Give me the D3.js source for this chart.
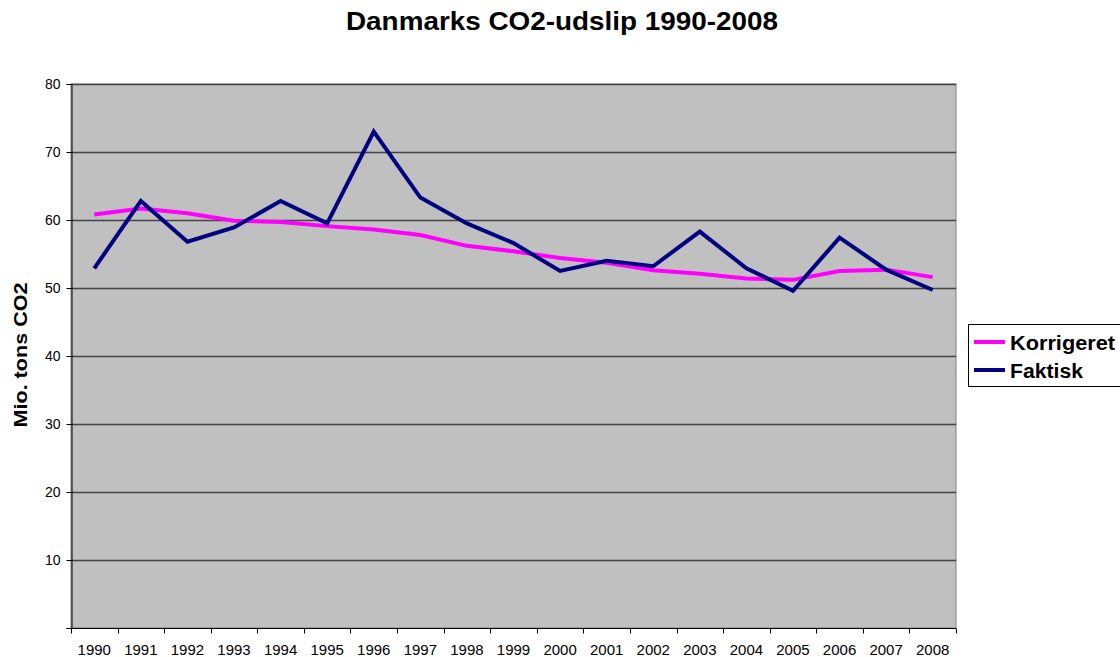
<!DOCTYPE html>
<html>
<head>
<meta charset="utf-8">
<script src="https://cdn.jsdelivr.net/npm/d3@7"></script>
<style>
  body { margin: 0; background: #fff; }
  text { font-family: Arial, "Liberation Sans", sans-serif; }
</style>
</head>
<body>
<div id="chart"></div>
<script>
// data
let aar = ["1990","1991","1992","1993","1994","1995","1996","1997","1998","1999",
           "2000","2001","2002","2003","2004","2005","2006","2007","2008"];
let korrigeret = [60.8,61.7,61.0,59.9,59.7,59.1,58.6,57.8,56.2,55.4,
                  54.4,53.7,52.6,52.1,51.4,51.2,52.5,52.7,51.6];
let faktisk = [52.9,62.8,56.8,58.9,62.8,59.5,73.0,63.3,59.5,56.6,
               52.5,54.0,53.2,58.3,52.9,49.6,57.4,52.7,49.7];
let yTicks = [10,20,30,40,50,60,70,80];

let width = 1120, height = 657;
let plot = {left: 71, top: 84, right: 956, bottom: 628};

let svg = d3.select("#chart").append("svg")
    .attr("width", width).attr("height", height);

let x = d3.scaleBand().domain(aar).range([plot.left, plot.right]);
let y = d3.scaleLinear().domain([0, 80]).range([plot.bottom, plot.top]);

// title
svg.append("text")
    .attr("x", 562).attr("y", 30)
    .attr("text-anchor", "middle")
    .attr("textLength", 432).attr("lengthAdjust", "spacingAndGlyphs")
    .style("font-size", "25px").style("font-weight", "bold")
    .text("Danmarks CO2-udslip 1990-2008");

// plot area
svg.append("rect")
    .attr("x", plot.left).attr("y", plot.top)
    .attr("width", plot.right - plot.left).attr("height", plot.bottom - plot.top)
    .attr("fill", "#c0c0c0").attr("stroke", "#808080").attr("stroke-width", 1);

// gridlines
svg.append("g").selectAll("line")
    .data(yTicks)
    .enter().append("line")
    .attr("x1", plot.left).attr("x2", plot.right)
    .attr("y1", d => Math.round(y(d)) + 0.5).attr("y2", d => Math.round(y(d)) + 0.5)
    .attr("stroke", "#444").attr("stroke-width", 1.3);

// y axis
let yAxis = svg.append("g")
    .attr("transform", "translate(" + (plot.left + 0.5) + ",0)")
    .call(d3.axisLeft(y).tickValues([0].concat(yTicks)).tickSize(5).tickPadding(6)
        .tickFormat(d => d === 0 ? "" : d));
yAxis.select(".domain").attr("stroke", "#000");
yAxis.selectAll(".tick line").attr("stroke", "#000");
yAxis.selectAll("text").style("font-size", "14px").attr("fill", "#000");

// x axis: ticks sit between categories
let xAxisG = svg.append("g")
    .attr("transform", "translate(0," + (plot.bottom + 0.5) + ")");
xAxisG.append("line")
    .attr("x1", plot.left).attr("x2", plot.right)
    .attr("stroke", "#000");
xAxisG.selectAll("line.tk")
    .data(aar.concat(["end"]))
    .enter().append("line")
    .attr("class", "tk")
    .attr("x1", (d, i) => Math.round(plot.left + i * x.bandwidth()) + 0.5)
    .attr("x2", (d, i) => Math.round(plot.left + i * x.bandwidth()) + 0.5)
    .attr("y1", 0).attr("y2", 5)
    .attr("stroke", "#000");
xAxisG.selectAll("text")
    .data(aar)
    .enter().append("text")
    .attr("x", d => x(d) + x.bandwidth() / 2)
    .attr("y", 26)
    .attr("text-anchor", "middle")
    .style("font-size", "15px")
    .text(d => d);

// y label
svg.append("text")
    .attr("transform", "translate(27," + 355 + ") rotate(-90)")
    .attr("text-anchor", "middle")
    .attr("textLength", 145).attr("lengthAdjust", "spacingAndGlyphs")
    .style("font-size", "19px").style("font-weight", "bold")
    .text("Mio. tons CO2");

// lines
let linje = d3.line()
    .x((d, i) => x(aar[i]) + x.bandwidth() / 2)
    .y(d => y(d));

svg.append("path")
    .datum(korrigeret)
    .attr("d", linje)
    .attr("fill", "none")
    .attr("stroke", "#ff00ff")
    .attr("stroke-width", 4)
    .attr("stroke-linejoin", "miter");

svg.append("path")
    .datum(faktisk)
    .attr("d", linje)
    .attr("fill", "none")
    .attr("stroke", "#000080")
    .attr("stroke-width", 4)
    .attr("stroke-linejoin", "miter");

// legend
let serier = [{navn: "Korrigeret", farve: "#ff00ff", bredde: 105},
              {navn: "Faktisk", farve: "#000080", bredde: 73}];
let legend = svg.append("g");
legend.append("rect")
    .attr("x", 968.5).attr("y", 324.5)
    .attr("width", 160).attr("height", 62)
    .attr("fill", "#fff").attr("stroke", "#000");
let poster = legend.selectAll("g")
    .data(serier)
    .enter().append("g")
    .attr("transform", (d, i) => "translate(0," + (342 + i * 28) + ")");
poster.append("line")
    .attr("x1", 974).attr("x2", 1005)
    .attr("stroke", d => d.farve).attr("stroke-width", 4);
poster.append("text")
    .attr("x", 1010).attr("y", 8)
    .attr("textLength", d => d.bredde).attr("lengthAdjust", "spacingAndGlyphs")
    .style("font-size", "20px").style("font-weight", "bold")
    .text(d => d.navn);
</script>
</body>
</html>
